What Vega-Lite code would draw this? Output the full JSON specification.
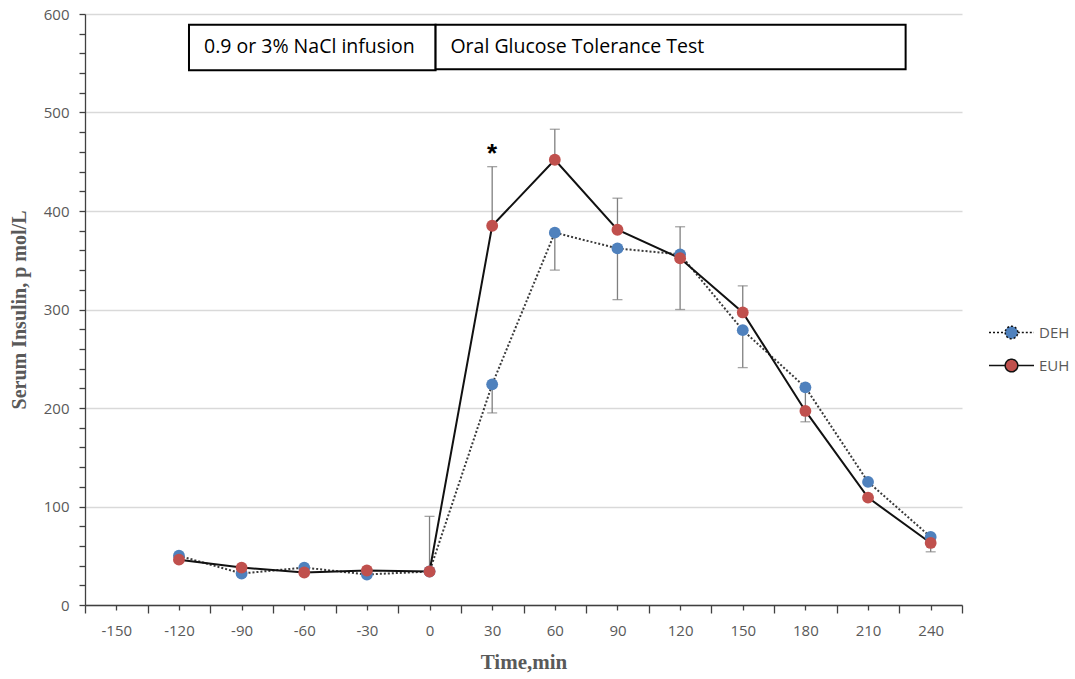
{
  "$schema": "https://vega.github.io/schema/vega-lite/v6.json",
  "width": 877,
  "height": 591,
  "autosize": "none",
  "padding": {"left": 85, "top": 14, "right": 113, "bottom": 74},
  "background": "white",
  "config": {"view": {"stroke": null}},
  "datasets": {
    "series": [
      {"time": -120, "group": "DEH", "value": 50},
      {"time": -90, "group": "DEH", "value": 32},
      {"time": -60, "group": "DEH", "value": 38},
      {"time": -30, "group": "DEH", "value": 31},
      {"time": 0, "group": "DEH", "value": 34},
      {"time": 30, "group": "DEH", "value": 224},
      {"time": 60, "group": "DEH", "value": 378},
      {"time": 90, "group": "DEH", "value": 362},
      {"time": 120, "group": "DEH", "value": 356},
      {"time": 150, "group": "DEH", "value": 279},
      {"time": 180, "group": "DEH", "value": 221},
      {"time": 210, "group": "DEH", "value": 125},
      {"time": 240, "group": "DEH", "value": 69},
      {"time": -120, "group": "EUH", "value": 46},
      {"time": -90, "group": "EUH", "value": 38},
      {"time": -60, "group": "EUH", "value": 33},
      {"time": -30, "group": "EUH", "value": 35},
      {"time": 0, "group": "EUH", "value": 34},
      {"time": 30, "group": "EUH", "value": 385},
      {"time": 60, "group": "EUH", "value": 452},
      {"time": 90, "group": "EUH", "value": 381},
      {"time": 120, "group": "EUH", "value": 352},
      {"time": 150, "group": "EUH", "value": 297},
      {"time": 180, "group": "EUH", "value": 197},
      {"time": 210, "group": "EUH", "value": 109},
      {"time": 240, "group": "EUH", "value": 63}
    ],
    "errors": [
      {"time": 0, "group": "EUH", "from": 34, "to": 90},
      {"time": 30, "group": "EUH", "from": 385, "to": 445},
      {"time": 30, "group": "DEH", "from": 224, "to": 195},
      {"time": 60, "group": "EUH", "from": 452, "to": 483},
      {"time": 60, "group": "DEH", "from": 378, "to": 340},
      {"time": 90, "group": "EUH", "from": 381, "to": 413},
      {"time": 90, "group": "DEH", "from": 362, "to": 310},
      {"time": 120, "group": "EUH", "from": 352, "to": 384},
      {"time": 120, "group": "DEH", "from": 356, "to": 300},
      {"time": 150, "group": "EUH", "from": 297, "to": 324},
      {"time": 150, "group": "DEH", "from": 279, "to": 241},
      {"time": 180, "group": "DEH", "from": 221, "to": 186},
      {"time": 240, "group": "DEH", "from": 69, "to": 54}
    ],
    "boxes": [
      {"label": "0.9 or 3% NaCl infusion", "x1": -115.2, "x2": 2.9, "y1": 543, "y2": 589, "tx": -108},
      {"label": "Oral Glucose Tolerance Test", "x1": 2.9, "x2": 228, "y1": 544, "y2": 589, "tx": 10}
    ],
    "marks": [
      {"time": 30, "value": 458, "label": "*"}
    ]
  },
  "layer": [
    {
      "data": {"name": "errors"},
      "mark": {"type": "rule", "color": "#7f7f7f", "strokeWidth": 1.3},
      "encoding": {
        "x": {
          "field": "time",
          "type": "quantitative",
          "scale": {"domain": [-165, 255], "nice": false, "zero": false},
          "axis": {
            "title": "Time,min",
            "values": [-165, -150, -135, -120, -105, -90, -75, -60, -45, -30, -15, 0, 15, 30, 45, 60, 75, 90, 105, 120, 135, 150, 165, 180, 195, 210, 225, 240, 255],
            "tickCount": 200,
            "labelExpr": "datum.value % 30 === 0 ? '' + datum.value : ''",
            "labelOverlap": false,
            "labelFlush": false,
            "grid": false,
            "domainColor": "#404040",
            "domainWidth": 1.3,
            "tickColor": "#404040",
            "tickWidth": 1.3,
            "tickSize": {"condition": {"test": "datum.value % 30 === 0", "value": 5}, "value": 8},
            "labelFont": "Open Sans",
            "labelFontSize": 15,
            "labelColor": "#595959",
            "labelPadding": 13,
            "titleFont": "Liberation Serif",
            "titleFontSize": 21,
            "titleFontWeight": "bold",
            "titleColor": "#595959",
            "titlePadding": 10
          }
        },
        "y": {
          "field": "from",
          "type": "quantitative",
          "scale": {"domain": [0, 600], "nice": false},
          "axis": {
            "title": "Serum Insulin, p mol/L",
            "values": [0, 20, 40, 60, 80, 100, 120, 140, 160, 180, 200, 220, 240, 260, 280, 300, 320, 340, 360, 380, 400, 420, 440, 460, 480, 500, 520, 540, 560, 580, 600],
            "tickCount": 200,
            "labelExpr": "datum.value % 100 === 0 ? '' + datum.value : ''",
            "labelOverlap": false,
            "labelFlush": false,
            "grid": true,
            "gridColor": "#d9d9d9",
            "gridWidth": 1.3,
            "gridOpacity": {"condition": {"test": "datum.value % 100 === 0", "value": 1}, "value": 0},
            "domainColor": "#404040",
            "domainWidth": 1.3,
            "tickColor": "#404040",
            "tickWidth": 1.3,
            "tickSize": 6,
            "labelFont": "Open Sans",
            "labelFontSize": 15,
            "labelColor": "#595959",
            "labelPadding": 10,
            "titleFont": "Liberation Serif",
            "titleFontSize": 20,
            "titleFontWeight": "bold",
            "titleColor": "#595959",
            "titlePadding": 14
          }
        },
        "y2": {"field": "to"}
      }
    },
    {
      "data": {"name": "errors"},
      "mark": {"type": "tick", "color": "#7f7f7f", "orient": "horizontal", "size": 10, "thickness": 1.3},
      "encoding": {
        "x": {"field": "time", "type": "quantitative"},
        "y": {"field": "to", "type": "quantitative"}
      }
    },
    {
      "data": {"name": "series"},
      "transform": [{"filter": "datum.group === 'DEH'"}],
      "mark": {"type": "line", "strokeWidth": 2, "strokeDash": [2, 2], "color": "#3a3a3a"},
      "encoding": {
        "x": {"field": "time", "type": "quantitative"},
        "y": {"field": "value", "type": "quantitative"}
      }
    },
    {
      "data": {"name": "series"},
      "transform": [{"filter": "datum.group === 'EUH'"}],
      "mark": {"type": "line", "strokeWidth": 2, "color": "#111111"},
      "encoding": {
        "x": {"field": "time", "type": "quantitative"},
        "y": {"field": "value", "type": "quantitative"}
      }
    },
    {
      "data": {"name": "series"},
      "mark": {"type": "point", "filled": true, "opacity": 1, "size": 140},
      "encoding": {
        "x": {"field": "time", "type": "quantitative"},
        "y": {"field": "value", "type": "quantitative"},
        "color": {
          "field": "group",
          "type": "nominal",
          "scale": {"domain": ["DEH", "EUH"], "range": ["#4F81BD", "#C0504D"]},
          "legend": {
            "title": null,
            "orient": "none",
            "legendX": 903,
            "legendY": 295,
            "symbolType": "M-1,0L-0.28,0M0.28,0L1,0M-0.28,0A0.28,0.28,0,1,0,0.28,0A0.28,0.28,0,1,0,-0.28,0Z",
            "symbolSize": 2025,
            "symbolStrokeColor": "#111111",
            "symbolStrokeWidth": 1.5,
            "symbolOpacity": 1,
            "labelFont": "Open Sans",
            "labelFontSize": 15,
            "labelColor": "#595959",
            "labelOffset": 4,
            "rowPadding": 0,
            "encode": {"symbols": {"update": {"strokeDash": {"signal": "datum.value === 'DEH' ? [2, 2] : [1, 0]"}}}}
          }
        }
      }
    },
    {
      "data": {"name": "boxes"},
      "mark": {"type": "rect", "fill": "white", "stroke": "black", "strokeWidth": 2},
      "encoding": {
        "x": {"field": "x1", "type": "quantitative"},
        "x2": {"field": "x2"},
        "y": {"field": "y1", "type": "quantitative"},
        "y2": {"field": "y2"}
      }
    },
    {
      "data": {"name": "boxes"},
      "mark": {"type": "text", "align": "left", "baseline": "middle", "font": "Open Sans", "fontSize": 19.5, "color": "black"},
      "encoding": {
        "x": {"field": "tx", "type": "quantitative"},
        "y": {"datum": 566.5, "type": "quantitative"},
        "text": {"field": "label"}
      }
    },
    {
      "data": {"name": "marks"},
      "mark": {"type": "text", "align": "center", "baseline": "middle", "font": "Liberation Sans", "fontSize": 26, "fontWeight": "bold", "color": "black"},
      "encoding": {
        "x": {"field": "time", "type": "quantitative"},
        "y": {"field": "value", "type": "quantitative"},
        "text": {"field": "label"}
      }
    }
  ]
}
